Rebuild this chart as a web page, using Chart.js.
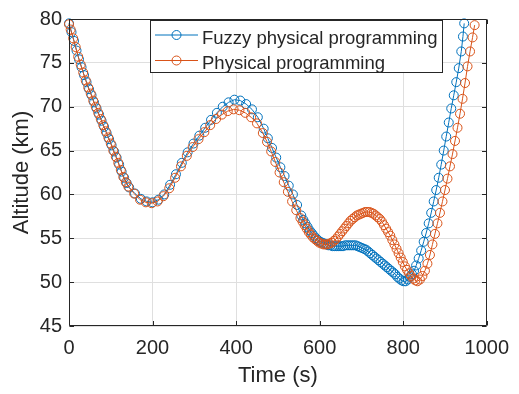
<!DOCTYPE html>
<html>
<head>
<meta charset="utf-8">
<script src="https://cdn.jsdelivr.net/npm/chart.js@4/dist/chart.umd.min.js"></script>
<style>
html,body{margin:0;padding:0;background:#ffffff;}
#wrap{width:519px;height:394px;position:relative;}
</style>
</head>
<body>
<div id="wrap"><canvas id="c" width="519" height="394"></canvas></div>
<script>
// ---- data ----
const seriesNames = ['Fuzzy physical programming', 'Physical programming'];
const xAxisTitle = 'Time (s)';
const yAxisTitle = 'Altitude (km)';
const xTickValues = [0, 200, 400, 600, 800, 1000];
const yTickValues = [45, 50, 55, 60, 65, 70, 75, 80];

const fuzzyTime = [
  0,6,12,18,24,30,36,42,48,54,60,66,72,78,84,90,96,102,108,114,120,126,132,138,144,
  158,172,186,200,214,228,242,256,270,284,298,312,326,340,354,368,382,396,410,424,438,452,466,
  476,486,496,506,516,526,536,546,556,
  561,566,571,576,581,586,591,596,601,606,611,616,621,626,631,636,641,646,651,656,661,666,671,676,681,686,691,696,701,
  706,711,716,721,726,731,736,741,746,751,756,761,766,771,776,781,786,791,796,801,806,811,816,821,826,831,
  837,843,849,855,861,867,873,879,885,891,897,903,909,915,921,927,933,939,943,946
];
const fuzzyAltitude = [
  79.5,78.5,77.5,76.4,75.4,74.5,73.6,72.8,72.0,71.3,70.5,69.8,69.1,68.4,67.7,67.0,66.3,65.6,64.9,64.2,63.4,62.6,61.9,61.3,60.8,
  60.1,59.5,59.2,59.1,59.4,60.0,61.1,62.3,63.6,64.8,65.8,66.7,67.6,68.5,69.3,70.0,70.5,70.8,70.7,70.3,69.7,68.8,67.5,
  66.4,65.3,64.2,63.1,62.1,61.0,60.0,58.8,57.6,
  57.1,56.7,56.3,55.9,55.6,55.3,55.0,54.8,54.6,54.5,54.4,54.3,54.2,54.2,54.1,54.1,54.1,54.1,54.1,54.1,54.2,54.2,54.2,54.2,54.2,54.2,54.1,54.0,53.9,
  53.8,53.7,53.5,53.3,53.1,52.9,52.7,52.5,52.3,52.1,51.9,51.7,51.5,51.3,51.1,50.9,50.6,50.4,50.2,50.1,50.1,50.3,50.6,50.9,51.3,51.9,
  52.7,53.6,54.6,55.6,56.7,57.9,59.2,60.5,61.9,63.4,65.0,66.6,68.2,69.8,71.3,72.8,74.4,76.3,78.0,79.5
];

const physicalTime = [
  0,4,10,16,22,28,34,40,46,52,58,64,70,76,82,88,94,100,106,112,118,124,130,136,142,
  156,170,184,198,212,226,240,254,268,282,296,310,324,338,352,366,380,394,408,422,436,450,464,
  474,484,494,504,514,524,534,544,554,
  559,564,569,574,579,584,589,594,599,604,609,614,619,624,629,634,639,644,649,654,659,664,669,674,679,684,689,694,699,
  704,709,714,719,724,729,734,739,744,749,754,759,764,769,774,779,784,789,794,799,804,809,814,819,824,829,834,
  840,846,852,858,864,870,876,882,888,894,900,906,912,918,924,930,936,942,948,954,960,966,971
];
const physicalAltitude = [
  79.4,78.8,77.8,76.8,75.7,74.8,73.9,73.0,72.2,71.5,70.7,70.0,69.3,68.6,67.9,67.2,66.5,65.8,65.0,64.3,63.6,62.8,62.0,61.4,60.9,
  60.1,59.4,59.1,59.0,59.2,59.8,60.7,61.9,63.2,64.4,65.4,66.3,67.1,67.9,68.6,69.1,69.5,69.7,69.6,69.3,68.8,68.1,67.0,
  66.0,64.9,63.7,62.5,61.4,60.3,59.2,58.2,57.3,
  56.9,56.5,56.1,55.7,55.4,55.1,54.9,54.7,54.5,54.4,54.3,54.3,54.3,54.4,54.5,54.7,54.9,55.2,55.5,55.8,56.1,56.4,56.7,57.0,57.2,57.4,57.6,57.7,57.8,
  57.9,58.0,58.0,58.0,57.9,57.8,57.6,57.4,57.2,56.9,56.5,56.1,55.7,55.3,54.8,54.3,53.8,53.3,52.8,52.3,51.8,51.4,51.0,50.7,50.4,50.2,50.1,
  50.3,50.7,51.3,52.1,53.1,54.3,55.5,56.7,57.9,59.2,60.5,61.8,63.2,64.6,66.1,67.6,69.2,70.9,72.7,74.6,76.3,77.9,79.3
];

// ---- styling ----
const BLUE = '#0072BD';
const ORANGE = '#D95319';
const AXIS = '#262626';
const GRID = '#dfdfdf';
const FONT = '"Liberation Sans", Arial, Helvetica, sans-serif';

function pts(xs, ys) { return xs.map((x, i) => ({ x: x, y: ys[i] })); }

const boxTicksPlugin = {
  id: 'boxTicks',
  afterDatasetsDraw(chart) {
    const { ctx, chartArea: a, scales } = chart;
    ctx.save();
    ctx.strokeStyle = AXIS;
    ctx.lineWidth = 1;
    const L = Math.round(a.left) + 0.5, R = Math.round(a.right) - 0.5;
    const T = Math.round(a.top) + 0.5, B = Math.round(a.bottom) - 0.5;
    ctx.beginPath();
    ctx.rect(L, T, R - L, B - T);
    const tl = 4.5;
    xTickValues.forEach(v => {
      const px = Math.round(scales.x.getPixelForValue(v)) + 0.5;
      ctx.moveTo(px, B); ctx.lineTo(px, B - tl);
      ctx.moveTo(px, T); ctx.lineTo(px, T + tl);
    });
    yTickValues.forEach(v => {
      const py = Math.round(scales.y.getPixelForValue(v)) + 0.5;
      ctx.moveTo(L, py); ctx.lineTo(L + tl, py);
      ctx.moveTo(R, py); ctx.lineTo(R - tl, py);
    });
    ctx.stroke();
    ctx.restore();
  }
};

const legendPlugin = {
  id: 'matlabLegend',
  afterDraw(chart) {
    const ctx = chart.ctx;
    ctx.save();
    const bx = 150.5, by = 20.5, bw = 292, bh = 52;
    ctx.fillStyle = '#ffffff';
    ctx.fillRect(bx, by, bw, bh);
    ctx.strokeStyle = AXIS;
    ctx.lineWidth = 1;
    ctx.strokeRect(bx, by, bw, bh);
    const rowLine = [35, 60.5];
    const rowBase = [43.5, 68.5];
    chart.data.datasets.forEach((ds, i) => {
      const y = rowLine[i];
      ctx.strokeStyle = ds.borderColor;
      ctx.lineWidth = 1;
      ctx.beginPath();
      ctx.moveTo(155, y); ctx.lineTo(198, y);
      ctx.stroke();
      ctx.beginPath();
      ctx.arc(176.5, y, 4.5, 0, Math.PI * 2);
      ctx.stroke();
      ctx.fillStyle = AXIS;
      ctx.font = '18.5px ' + FONT;
      ctx.textBaseline = 'alphabetic';
      ctx.textAlign = 'left';
      ctx.fillText(ds.label, 202, rowBase[i]);
    });
    ctx.restore();
  }
};

function dataset(label, data, color, order) {
  return {
    label: label,
    data: data,
    showLine: true,
    borderColor: color,
    backgroundColor: 'rgba(0,0,0,0)',
    borderWidth: 1,
    pointStyle: 'circle',
    pointRadius: 4.5,
    pointBorderWidth: 1,
    pointBorderColor: color,
    pointBackgroundColor: 'rgba(0,0,0,0)',
    tension: 0,
    clip: false,
    order: order
  };
}

new Chart(document.getElementById('c'), {
  type: 'scatter',
  data: {
    datasets: [
      dataset(seriesNames[0], pts(fuzzyTime, fuzzyAltitude), BLUE, 2),
      dataset(seriesNames[1], pts(physicalTime, physicalAltitude), ORANGE, 1)
    ]
  },
  options: {
    responsive: false,
    animation: false,
    devicePixelRatio: 1,
    layout: { padding: { top: 7, right: 22.5, left: 0, bottom: 0 } },
    plugins: {
      legend: { display: false },
      tooltip: { enabled: false },
      title: { display: false }
    },
    scales: {
      x: {
        type: 'linear',
        min: 0, max: 1000,
        afterFit: s => { s.height = 68; },
        afterBuildTicks: s => { s.ticks = xTickValues.map(v => ({ value: v })); },
        grid: { color: GRID, lineWidth: 1, drawTicks: false },
        border: { display: false },
        ticks: { font: { family: FONT, size: 20 }, color: AXIS, padding: 10, maxRotation: 0, callback: v => String(v) },
        title: { display: true, text: xAxisTitle, font: { family: FONT, size: 22 }, color: AXIS, padding: { top: 0, bottom: 5 } }
      },
      y: {
        type: 'linear',
        min: 45, max: 80,
        afterFit: s => { s.width = 69; },
        afterBuildTicks: s => { s.ticks = yTickValues.map(v => ({ value: v })); },
        grid: { color: GRID, lineWidth: 1, drawTicks: false },
        border: { display: false },
        ticks: { font: { family: FONT, size: 20 }, color: AXIS, padding: 7, callback: v => String(v) },
        title: { display: true, text: yAxisTitle, font: { family: FONT, size: 22 }, color: AXIS, padding: { top: 9, bottom: 0 } }
      }
    }
  },
  plugins: [boxTicksPlugin, legendPlugin]
});
</script>
</body>
</html>
